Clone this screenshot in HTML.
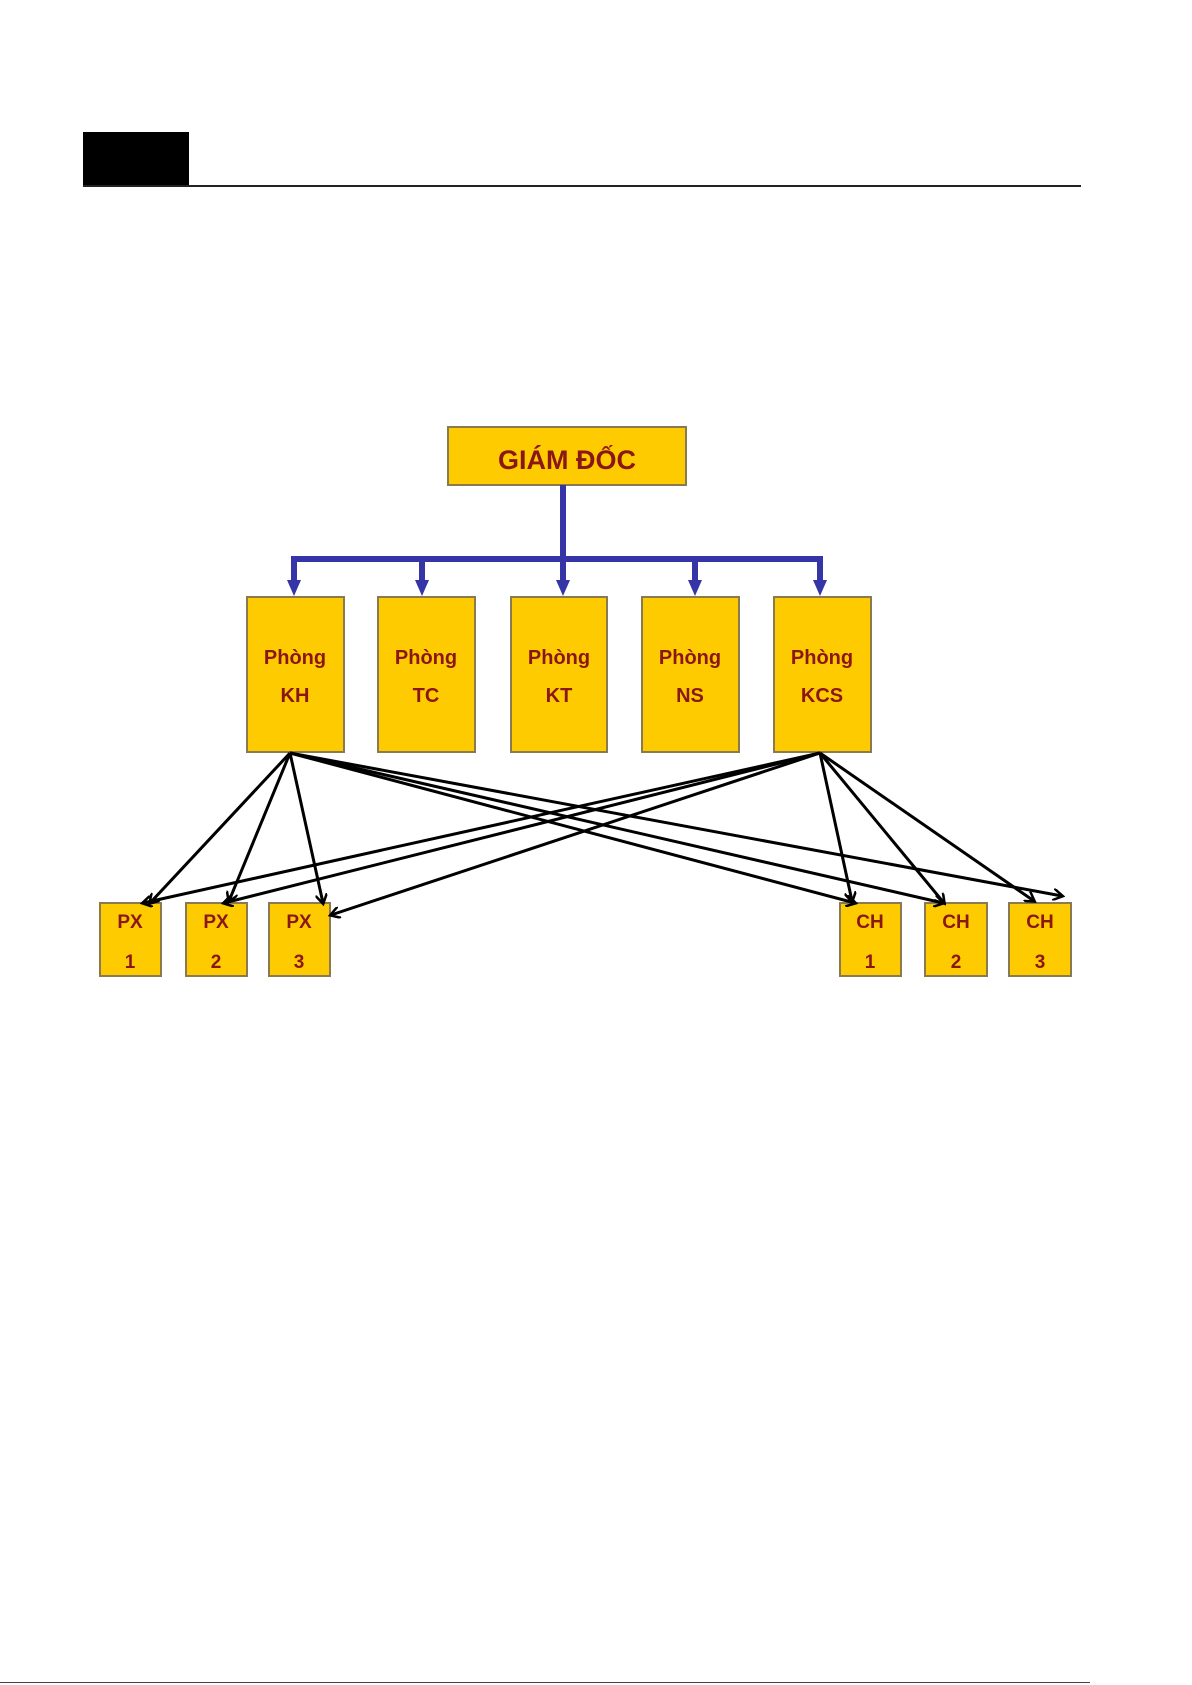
<!DOCTYPE html>
<html><head><meta charset="utf-8"><style>
body{margin:0;background:#fff;}
svg{display:block}
text{font-family:"Liberation Sans",sans-serif;font-weight:bold;fill:#8b1616;text-anchor:middle}
</style></head><body>
<svg width="1192" height="1685" viewBox="0 0 1192 1685">
<defs>
<marker id="ar" markerWidth="12" markerHeight="12" refX="9" refY="6" orient="auto" markerUnits="userSpaceOnUse"><path d="M0,0 L10,6 L0,12" fill="none" stroke="#000" stroke-width="2.5"/></marker>
</defs>
<rect x="83" y="132" width="106" height="54" fill="#000"/>
<rect x="83" y="185" width="998" height="2" fill="#222"/>
<rect x="0" y="1682" width="1090" height="1" fill="#444"/>
<rect x="448" y="427" width="238" height="58" fill="#fdcb00" stroke="#8a7a50" stroke-width="2"/>
<text x="567" y="469" font-size="27">GIÁM ĐỐC</text>
<g stroke="#3535a8" stroke-width="6" fill="none">
<line x1="563" y1="485" x2="563" y2="559"/>
<line x1="291" y1="559" x2="823" y2="559"/>
<line x1="294" y1="556" x2="294" y2="584"/>
<line x1="422" y1="556" x2="422" y2="584"/>
<line x1="563" y1="556" x2="563" y2="584"/>
<line x1="695" y1="556" x2="695" y2="584"/>
<line x1="820" y1="556" x2="820" y2="584"/>
</g>
<g fill="#3535a8">
<polygon points="287,580 301,580 294,596"/>
<polygon points="415,580 429,580 422,596"/>
<polygon points="556,580 570,580 563,596"/>
<polygon points="688,580 702,580 695,596"/>
<polygon points="813,580 827,580 820,596"/>
</g>
<g fill="#fdcb00" stroke="#8a7a50" stroke-width="2">
<rect x="247" y="597" width="97" height="155"/>
<rect x="378" y="597" width="97" height="155"/>
<rect x="511" y="597" width="96" height="155"/>
<rect x="642" y="597" width="97" height="155"/>
<rect x="774" y="597" width="97" height="155"/>
<rect x="100" y="903" width="61" height="73"/>
<rect x="186" y="903" width="61" height="73"/>
<rect x="269" y="903" width="61" height="73"/>
<rect x="840" y="903" width="61" height="73"/>
<rect x="925" y="903" width="62" height="73"/>
<rect x="1009" y="903" width="62" height="73"/>
</g>
<g font-size="20">
<text x="295" y="664">Phòng</text><text x="295" y="702">KH</text>
<text x="426" y="664">Phòng</text><text x="426" y="702">TC</text>
<text x="559" y="664">Phòng</text><text x="559" y="702">KT</text>
<text x="690" y="664">Phòng</text><text x="690" y="702">NS</text>
<text x="822" y="664">Phòng</text><text x="822" y="702">KCS</text>
</g>
<g font-size="19">
<text x="130" y="928">PX</text><text x="130" y="968">1</text>
<text x="216" y="928">PX</text><text x="216" y="968">2</text>
<text x="299" y="928">PX</text><text x="299" y="968">3</text>
<text x="870" y="928">CH</text><text x="870" y="968">1</text>
<text x="956" y="928">CH</text><text x="956" y="968">2</text>
<text x="1040" y="928">CH</text><text x="1040" y="968">3</text>
</g>
<g stroke="#000" stroke-width="3" fill="none" marker-end="url(#ar)">
<line x1="290" y1="753" x2="150" y2="903"/>
<line x1="290" y1="753" x2="229" y2="901"/>
<line x1="290" y1="753" x2="323" y2="903"/>
<line x1="290" y1="753" x2="855" y2="903"/>
<line x1="290" y1="753" x2="943" y2="903"/>
<line x1="290" y1="753" x2="1062" y2="896"/>
<line x1="820" y1="753" x2="143" y2="903"/>
<line x1="820" y1="753" x2="224" y2="903"/>
<line x1="820" y1="753" x2="331" y2="915"/>
<line x1="820" y1="753" x2="852" y2="901"/>
<line x1="820" y1="753" x2="944" y2="903"/>
<line x1="820" y1="753" x2="1034" y2="901"/>
</g>
</svg>
</body></html>
